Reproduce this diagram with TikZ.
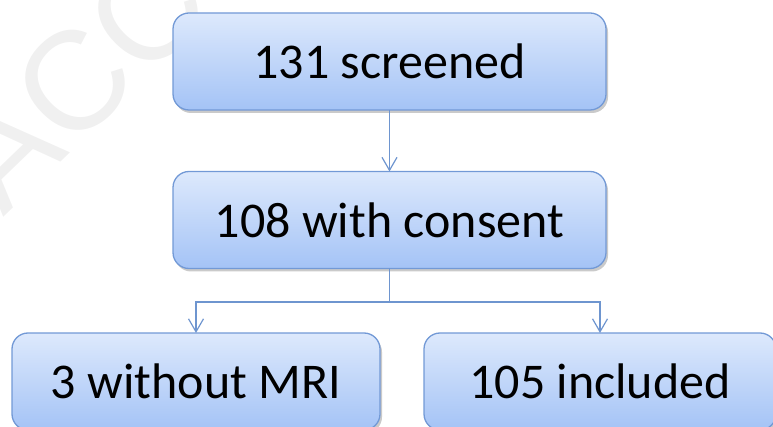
\documentclass[tikz,border=0pt]{standalone}
\usepackage{fontspec}
\setmainfont{Carlito}
\newfontfamily\markfont{Liberation Sans}
\usetikzlibrary{arrows.meta,shadows}
\definecolor{boxtop}{HTML}{DDE9FC}
\definecolor{boxbot}{HTML}{A4C3F6}
\definecolor{boxline}{HTML}{7299D6}
\definecolor{linkcol}{HTML}{6E95CF}
\begin{document}
\begin{tikzpicture}[x=1pt,y=-1pt,inner sep=0pt,outer sep=0pt,
		stage/.style={draw=boxline,line width=1.3pt,rounded corners=16pt,
			top color=boxtop,bottom color=boxbot,minimum height=97pt,
			drop shadow={shadow xshift=2pt,shadow yshift=-3pt,opacity=0.35,fill=black!60},
			font=\fontsize{50}{60}\selectfont},
		link/.style={draw=linkcol,line width=1.2pt},
		arr/.style={link,-{Straight Barb[length=13pt,width=15pt,line width=1.2pt]}}]
			\useasboundingbox (0,0) rectangle (773,427) ;
			\node[rotate=44,text=black!6,font=\markfont\fontsize{140}{140}\selectfont] (mark) at (76,80) {ACC} ;
			\node[stage,minimum width=433pt] (scr) at (389.5,61.5) {131 screened} ;
			\node[stage,minimum width=433pt] (cons) at (389.5,220) {108 with consent} ;
			\node[stage,minimum width=368pt] (nomri) at (196,381.5) {3 without MRI} ;
			\node[stage,minimum width=352pt] (incl) at (600,381.5) {105 included} ;
			\coordinate (split) at (389.5,302) ;
			\draw[arr] (scr) -- (cons) ;
			\draw[link] (cons) -- (split) ;
			\draw[arr] (split) -| (nomri) ;
			\draw[arr] (split) -| (incl) ;
		\end{tikzpicture}
\end{document}
